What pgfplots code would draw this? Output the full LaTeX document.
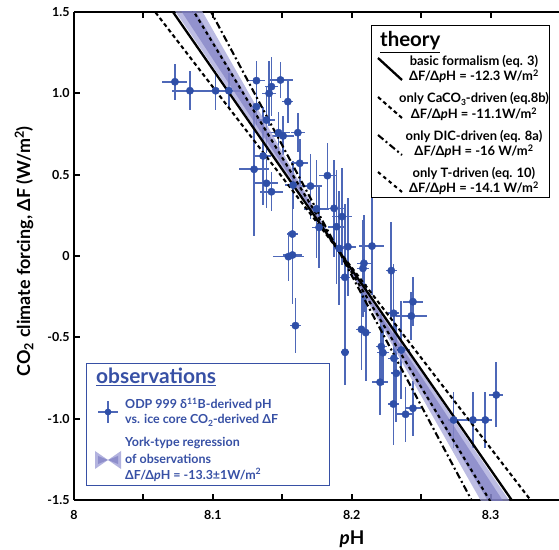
\documentclass[border=0pt]{standalone}
\usepackage{pgfplots}
\pgfplotsset{compat=1.18}
\usepackage{pgfplotstable}
\usepackage{fontspec}
\setmainfont{Lato}
\definecolor{ptblue}{RGB}{47,79,168}
\definecolor{barblue}{RGB}{78,104,184}
\definecolor{obsblue}{RGB}{55,80,165}
\definecolor{bandout}{RGB}{160,160,215}
\definecolor{bandin}{RGB}{118,118,190}
\newcommand{\sub}[1]{\raisebox{-0.18em}{\fontsize{8.5}{8.5}\selectfont #1}}

\pgfplotstableread{
x y ex ey
8.0727 1.071 0.009 0.11
8.0835 1.016 0.013 0.12
8.1020 1.016 0.012 0.12
8.1115 1.016 0.009 0.11
8.1314 1.078 0.006 0.12
8.1314 0.918 0.005 0.11
8.1297 0.533 0.011 0.41
8.1362 0.615 0.006 0.30
8.1386 0.836 0.006 0.20
8.1386 0.447 0.008 0.15
8.1405 1.000 0.005 0.20
8.1422 1.041 0.005 0.18
8.1422 0.395 0.008 0.12
8.1487 1.082 0.009 0.11
8.1540 0.949 0.004 0.13
8.1473 0.758 0.008 0.13
8.1506 0.738 0.008 0.12
8.1612 0.758 0.005 0.12
8.1626 0.570 0.006 0.15
8.1578 0.436 0.006 0.15
8.1573 0.135 0.004 0.30
8.1544 -0.004 0.011 0.15
8.1573 0.006 0.007 0.30
8.1595 -0.428 0.004 0.17
8.1703 0.430 0.008 0.20
8.1746 0.290 0.009 0.30
8.1765 0.176 0.005 0.25
8.1825 0.494 0.006 0.20
8.1873 0.293 0.008 0.30
8.1930 0.242 0.007 0.30
8.1890 0.180 0.006 0.35
8.1909 0.047 0.004 0.35
8.1973 0.057 0.006 0.30
8.1950 -0.131 0.004 0.45
8.2088 -0.045 0.005 0.30
8.2081 -0.076 0.004 0.30
8.2146 0.061 0.009 0.30
8.2070 -0.451 0.004 0.25
8.2101 -0.471 0.004 0.30
8.1952 -0.592 0.003 0.20
8.2285 -0.090 0.004 0.30
8.2302 -0.352 0.004 0.30
8.2213 -0.557 0.004 0.20
8.2225 -0.594 0.004 0.20
8.2304 -0.629 0.004 0.30
8.2321 -0.721 0.004 0.30
8.2357 -0.578 0.006 0.30
8.2441 -0.281 0.007 0.15
8.2429 -0.369 0.011 0.15
8.2204 -0.776 0.006 0.20
8.2300 -0.910 0.004 0.25
8.2388 -0.973 0.006 0.17
8.2441 -0.936 0.006 0.17
8.2734 -1.008 0.004 0.17
8.2873 -1.008 0.010 0.17
8.2962 -1.008 0.005 0.17
8.3041 -0.854 0.005 0.20
}\obs

\begin{document}
\begin{tikzpicture}
\useasboundingbox (-74bp,-50bp) rectangle (485bp,500bp);
\begin{axis}[
  at={(0,0)}, anchor=south west,
  scale only axis, width=486bp, height=488bp,
  xmin=8, xmax=8.35, ymin=-1.5, ymax=1.5,
  axis x line*=box, axis y line*=left,
  axis line style={-, line width=2.4bp, black},
  xtick={8,8.1,8.2,8.3}, xticklabels={8,8.1,8.2,8.3},
  minor xtick={8.05,8.15,8.25},
  ytick={-1.5,-1,-0.5,0,0.5,1,1.5},
  yticklabels={-1.5,-1.0,-0.5,0,0.5,1.0,1.5},
  xtick pos=both, ytick pos=left,
  tick align=inside,
  major tick length=6bp, minor tick length=6bp,
  tick style={line width=2bp, black},
  ticklabel style={font=\bfseries\fontsize{12.5}{14}\selectfont},
  xticklabel style={yshift=-7bp},
  yticklabel style={xshift=-1bp},
  xlabel={\textit{p}H},
  xlabel style={font=\bfseries\fontsize{19}{21}\selectfont, at={(axis description cs:0.572,-0.08)}, anchor=center},
  ylabel={CO\textsubscript{2} climate forcing, ΔF (W/m\textsuperscript{2})},
  ylabel style={font=\bfseries\fontsize{18}{20}\selectfont, at={(axis description cs:-0.103,0.51)}, anchor=center},
]
% observations with error bars
\addplot[only marks, mark=*, mark size=3.7bp, mark options={fill=ptblue, draw=ptblue},
  error bars/.cd, x dir=both, x explicit, y dir=both, y explicit,
  error mark=none, error bar style={color=barblue, line width=1.6bp}]
  table[x=x, y=y, x error=ex, y error=ey] {\obs};
% York regression band
\addplot[fill=bandout, draw=none, fill opacity=0.7] coordinates {(8.0652,1.6) (8.0860,1.6) (8.29933,-1.6) (8.3212,-1.6)} -- cycle;
\addplot[fill=bandin, draw=none, fill opacity=0.6] coordinates {(8.0700,1.6) (8.0809,1.6) (8.3047,-1.6) (8.3162,-1.6)} -- cycle;
% theory lines
\addplot[black, line width=2.3bp] coordinates {(8.06317,1.6) (8.32333,-1.6)};
\addplot[black, line width=2.1bp, dash pattern=on 4bp off 3bp] coordinates {(8.04946,1.6) (8.33775,-1.6)};
\addplot[black, line width=2.1bp, dash pattern=on 7bp off 3bp on 2bp off 3bp] coordinates {(8.0925,1.6) (8.2925,-1.6)};
\addplot[black, line width=2.1bp, dash pattern=on 3.5bp off 3.5bp] coordinates {(8.07936,1.6) (8.30631,-1.6)};
\end{axis}

% theory legend
\draw[black, line width=0.8bp, fill=white] (297bp,303bp) rectangle (475bp,475bp);
\node[anchor=base west, inner sep=0, font=\bfseries\fontsize{20.5}{20}\selectfont] at (306bp,453bp) {\underline{theory}};
\begin{scope}[every node/.style={anchor=base, inner sep=0, font=\bfseries\fontsize{13}{14}\selectfont}]
\node at (400bp,434bp) {basic formalism (eq. 3)};
\node at (400bp,419bp) {ΔF/Δ\textit{p}H = -12.3 W/m\textsuperscript{2}};
\node at (400bp,397bp) {only CaCO\sub{3}-driven (eq.8b)};
\node at (400bp,381bp) {ΔF/Δ\textit{p}H = -11.1W/m\textsuperscript{2}};
\node at (400bp,359bp) {only DIC-driven (eq. 8a)};
\node at (400bp,344bp) {ΔF/Δ\textit{p}H = -16 W/m\textsuperscript{2}};
\node at (400bp,322bp) {only T-driven (eq. 10)};
\node at (400bp,307bp) {ΔF/Δ\textit{p}H = -14.1 W/m\textsuperscript{2}};
\end{scope}
\draw[line width=2.3bp] (304bp,442bp) -- (328bp,420bp);
\draw[line width=2.1bp, dash pattern=on 4bp off 3bp] (304bp,403bp) -- (328bp,382bp);
\draw[line width=2.1bp, dash pattern=on 7bp off 3bp on 2bp off 3bp] (304bp,365bp) -- (328bp,345bp);
\draw[line width=2.1bp, dash pattern=on 3.5bp off 3.5bp] (304bp,328bp) -- (328bp,308bp);

% observations legend
\draw[obsblue, line width=0.9bp, fill=white] (12bp,15bp) rectangle (255bp,137bp);
\node[anchor=base west, inner sep=0, text=obsblue, font=\bfseries\fontsize{21}{21}\selectfont] at (22bp,116bp) {\underline{observations}};
\draw[barblue, line width=1.6bp] (24bp,88bp) -- (44bp,88bp) (34bp,77bp) -- (34bp,99bp);
\fill[ptblue] (34bp,88bp) circle (3.4bp);
\fill[bandout, opacity=0.8] (21bp,31bp) -- (21bp,49bp) -- (34bp,40bp) -- cycle;
\fill[bandout, opacity=0.8] (47bp,31bp) -- (47bp,49bp) -- (34bp,40bp) -- cycle;
\fill[bandin, opacity=0.6] (24bp,36bp) -- (24bp,44bp) -- (34bp,40bp) -- cycle;
\fill[bandin, opacity=0.6] (44bp,36bp) -- (44bp,44bp) -- (34bp,40bp) -- cycle;
\begin{scope}[every node/.style={anchor=base west, inner sep=0, text=obsblue, font=\bfseries\fontsize{12.5}{14}\selectfont}]
\node at (51bp,91bp) {ODP 999 δ\textsuperscript{11}B-derived pH};
\node at (51bp,76bp) {vs. ice core CO\sub{2}-derived ΔF};
\node at (51bp,53bp) {York-type regression};
\node at (51bp,37bp) {of observations};
\node at (51bp,21bp) {ΔF/Δ\textit{p}H = -13.3±1W/m\textsuperscript{2}};
\end{scope}
\end{tikzpicture}
\end{document}
